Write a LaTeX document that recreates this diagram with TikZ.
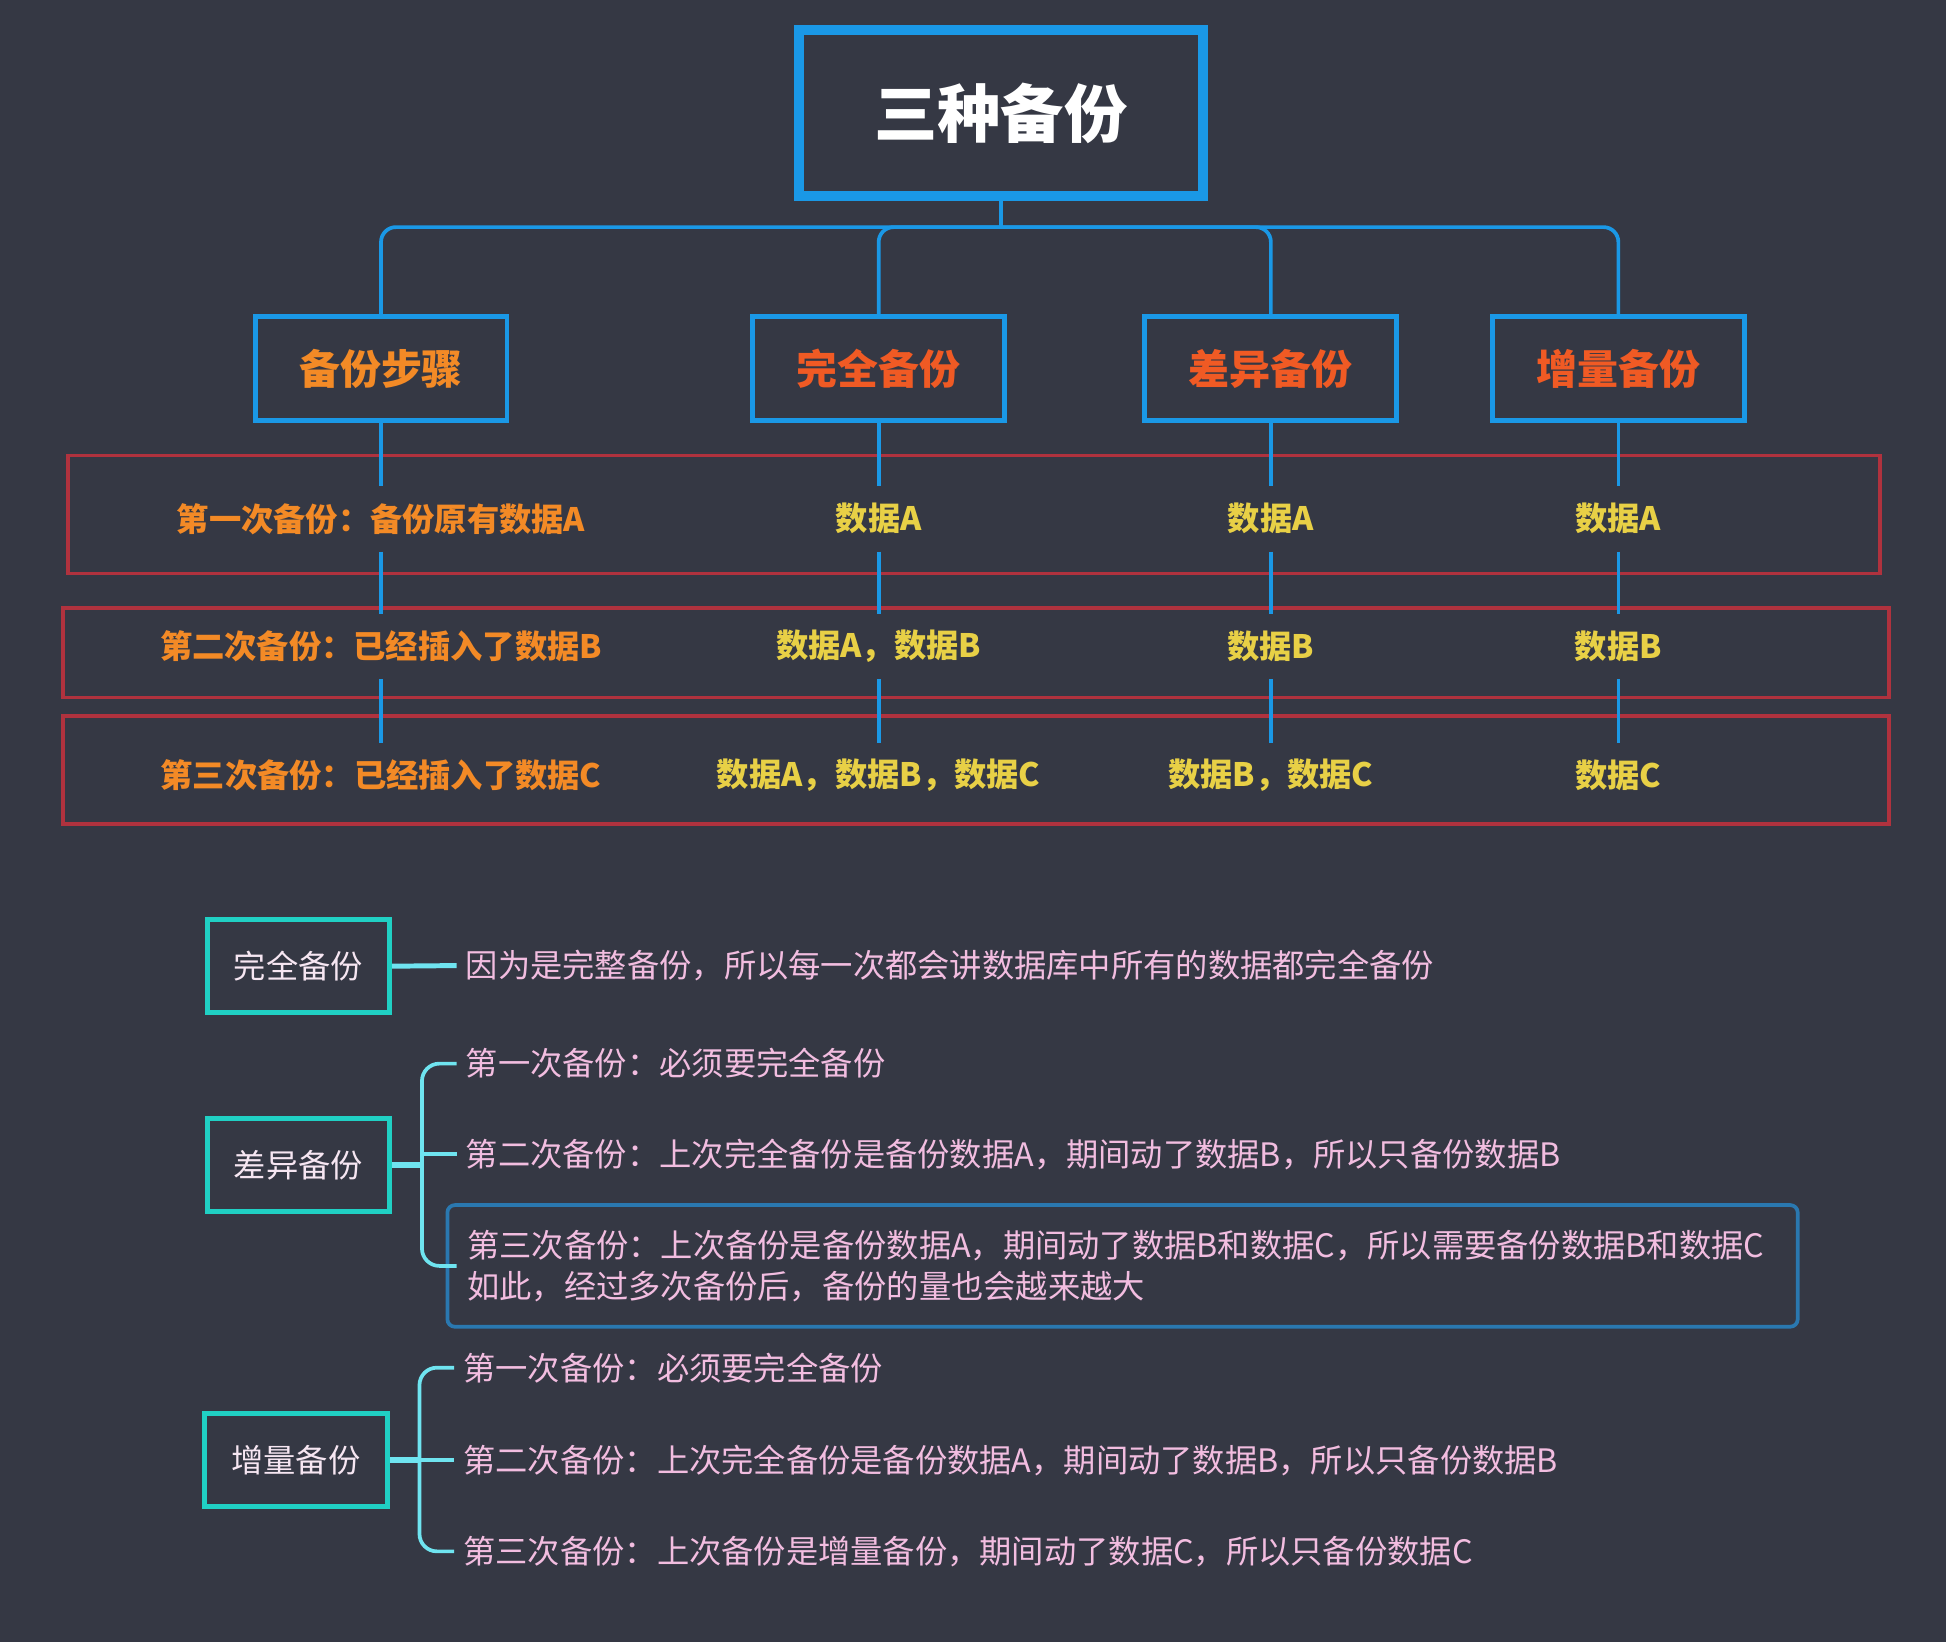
\documentclass[tikz,border=0pt]{standalone}
\usepackage{fontspec}
\setmainfont{Noto Sans CJK SC}
\usetikzlibrary{calc}
\definecolor{bgc}{HTML}{353844}
\definecolor{tblue}{HTML}{1A98E6}
\definecolor{rowred}{HTML}{B0323E}
\definecolor{orangetxt}{HTML}{F38A26}
\definecolor{redtxt}{HTML}{F05A24}
\definecolor{yellowtxt}{HTML}{E8D046}
\definecolor{tealc}{HTML}{20D0C4}
\definecolor{cyanl}{HTML}{6FE4F0}
\definecolor{pinktxt}{HTML}{F2BDE0}
\definecolor{boxtxt}{HTML}{F6E6F2}
\definecolor{frameblue}{HTML}{2A78B0}
\tikzset{
  titlebox/.style={draw=tblue, line width=4pt, minimum width=162.5pt, minimum height=67pt,
    text=white, font=\fontsize{25.5pt}{30pt}\selectfont\bfseries, inner sep=0pt},
  lvlbox/.style={draw=tblue, line width=2pt, minimum width=101.5pt, minimum height=42pt,
    font=\fontsize{16.5pt}{20pt}\selectfont\bfseries, inner sep=0pt},
  rowtxt/.style={font=\fontsize{13pt}{16pt}\selectfont\bfseries, minimum height=26pt, inner sep=0pt, text=yellowtxt},
  steptxt/.style={rowtxt, text=orangetxt},
  rowbox/.style={draw=rowred, line width=1.5pt, inner sep=0pt},
  treeline/.style={tblue, line width=1.5pt},
  tbox/.style={draw=tealc, line width=2pt, minimum width=73.5pt, minimum height=37.5pt,
    text=boxtxt, font=\fontsize{13pt}{16pt}\selectfont, inner sep=0pt},
  leaf/.style={anchor=west, text=pinktxt, font=\fontsize{13pt}{16pt}\selectfont, inner xsep=3.5pt, inner ysep=2pt},
  brk/.style={cyanl, line width=1.5pt},
}
\begin{document}
\begin{tikzpicture}[x=0.5pt,y=-0.5pt]
\fill[bgc] (0,0) rectangle (1568,1323);
\useasboundingbox (0,0) rectangle (1568,1323);

% row frames
\node[rowbox, minimum width=730pt, minimum height=47.5pt] (row1) at (785,414.5) {};
\node[rowbox, minimum width=735.5pt, minimum height=36pt] (row2) at (786.5,526) {};
\node[rowbox, minimum width=735.5pt, minimum height=43.5pt] (row3) at (786.5,620.5) {};

% title and level 2
\node[titlebox] (top) at (806.5,91) {三种备份};
\coordinate (jn) at (806.5,183);
\node[lvlbox, text=orangetxt] (s) at (307,297) {备份步骤};
\node[lvlbox, text=redtxt] (f) at (708,297) {完全备份};
\node[lvlbox, text=redtxt] (d) at (1024,297) {差异备份};
\node[lvlbox, text=redtxt] (i) at (1304,297) {增量备份};

% row texts
\node[steptxt] (s1) at (307,418) {第一次备份：备份原有数据A};
\node[steptxt] (s2) at (307,521) {第二次备份：已经插入了数据B};
\node[steptxt] (s3) at (307,625) {第三次备份：已经插入了数据C};
\node[rowtxt] (f1) at (708,418) {数据A};
\node[rowtxt] (f2) at (708,521) {数据A，数据B};
\node[rowtxt] (f3) at (708,625) {数据A，数据B，数据C};
\node[rowtxt] (d1) at (1024,418) {数据A};
\node[rowtxt] (d2) at (1024,521) {数据B};
\node[rowtxt] (d3) at (1024,625) {数据B，数据C};
\node[rowtxt] (i1) at (1304,418) {数据A};
\node[rowtxt] (i2) at (1304,521) {数据B};
\node[rowtxt] (i3) at (1304,625) {数据C};

% tree connectors
\draw[treeline] (top.south) -- (jn);
\foreach \c in {s,f,d,i}{
  \draw[treeline, rounded corners=6pt] (jn) -| (\c.north);
  \draw[treeline] (\c.south) -- (\c1.north);
  \draw[treeline] (\c1.south) -- (\c2.north);
  \draw[treeline] (\c2.south) -- (\c3.north);
}

% ---- lower part ----
\node[tbox] (fb) at (240.5,778.5) {完全备份};
\node[tbox] (db) at (240.5,939) {差异备份};
\node[tbox] (ib) at (238.5,1176.5) {增量备份};

\node[leaf] (fl) at (368,778) {因为是完整备份，所以每一次都会讲数据库中所有的数据都完全备份};
\draw[brk, line width=2pt] (fb.east) -- (fl.west);

\coordinate (dj) at (340,939);
\node[leaf] (dl1) at (368,857) {第一次备份：必须要完全备份};
\node[leaf] (dl2) at (368,930) {第二次备份：上次完全备份是备份数据A，期间动了数据B，所以只备份数据B};
\node[leaf, draw=frameblue, line width=1.5pt, rounded corners=3pt, inner xsep=8pt,
  minimum height=49pt, align=left, font=\fontsize{13pt}{16.5pt}\selectfont, text width=528pt] (dl3) at (359,1020)
  {第三次备份：上次备份是备份数据A，期间动了数据B和数据C，所以需要备份数据B和数据C\\如此，经过多次备份后，备份的量也会越来越大};
\draw[brk, line width=2.5pt] (db.east) -- (dj);
\draw[brk, rounded corners=7pt] (dl1.west) -| (dj) |- ($(dl3.west)+(9,0)$);
\draw[brk] (dl2.west -| dj) -- (dl2.west);

\coordinate (ij) at (338,1176.5);
\node[leaf] (il1) at (366,1102) {第一次备份：必须要完全备份};
\node[leaf] (il2) at (366,1176.5) {第二次备份：上次完全备份是备份数据A，期间动了数据B，所以只备份数据B};
\node[leaf] (il3) at (366,1250) {第三次备份：上次备份是增量备份，期间动了数据C，所以只备份数据C};
\draw[brk, line width=2.5pt] (ib.east) -- (ij);
\draw[brk, rounded corners=7pt] (il1.west) -| (ij) |- (il3.west);
\draw[brk] (ij) -- (il2.west);
\end{tikzpicture}
\end{document}
